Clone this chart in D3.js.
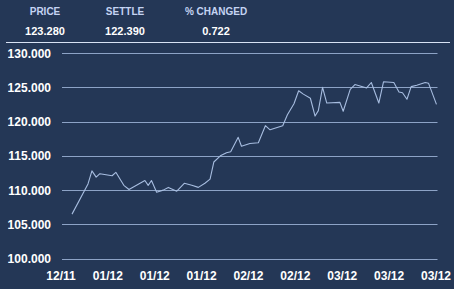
<!DOCTYPE html>
<html><head><meta charset="utf-8">
<script src="https://cdn.jsdelivr.net/npm/d3@7"></script>
<style>
html,body{margin:0;padding:0;background:#243756;}
svg{display:block;font-family:"Liberation Sans",Arial,sans-serif;font-weight:bold;}
</style></head><body>
<svg id="c" width="454" height="289"></svg>
<script>
// Header stats
const headerLabels = ["PRICE", "SETTLE", "% CHANGED"];
const headerValues = ["123.280", "122.390", "0.722"];

// X tick labels (one every 10 time units)
const xTickLabels = ["12/11","01/12","01/12","01/12","02/12","02/12","03/12","03/12","03/12"];
const xTickPos = [0,10,20,30,40,50,60,70,80];

// Y ticks
const yTicks = [100,105,110,115,120,125,130];

// Price series: time unit and value
const tValues = [2.35,5.76,6.6,7.5,8.3,10.9,11.7,13.4,14.5,17.9,18.6,19.3,20.4,21.8,22.9,24.7,26.3,27.9,29.3,30.7,31.8,32.6,34.0,35.3,36.2,37.8,38.5,40.3,42.1,43.6,44.6,47.3,48.3,49.7,50.7,51.7,53.2,54.2,54.9,55.8,56.7,59.5,60.2,61.7,62.7,63.8,65.2,66.2,67.8,68.8,71.0,72.1,72.85,73.8,74.7,75.9,77.7,78.4,80.1];
const prices = [106.5,110.9,112.8,111.9,112.4,112.1,112.6,110.7,110.1,111.4,110.7,111.4,109.7,110.0,110.4,109.85,111.0,110.7,110.4,111.0,111.6,114.1,115.0,115.45,115.6,117.7,116.4,116.8,116.9,119.4,118.8,119.4,121.0,122.6,124.5,124.0,123.4,120.8,121.6,125.0,122.7,122.8,121.5,124.7,125.4,125.2,124.9,125.7,122.7,125.8,125.7,124.3,124.2,123.25,125.1,125.3,125.7,125.6,122.5];

const data = tValues.map((t,i)=>({t, v: prices[i]}));

const svg = d3.select("#c");
const W = 454, H = 289;

// header
const hx = [45, 125, 216];
svg.selectAll("text.hl").data(headerLabels).join("text")
  .attr("class","hl").attr("x",(d,i)=>hx[i]).attr("y",15)
  .attr("text-anchor","middle").attr("font-size",10).attr("fill","#c4d4f2").text(d=>d);
svg.selectAll("text.hv").data(headerValues).join("text")
  .attr("class","hv").attr("x",(d,i)=>hx[i]).attr("y",35)
  .attr("text-anchor","middle").attr("font-size",11).attr("fill","#ffffff").text(d=>d);
svg.append("line").attr("x1",6).attr("x2",450).attr("y1",42.5).attr("y2",42.5)
  .attr("stroke","#d8e2f4").attr("stroke-width",1);

const x = d3.scaleLinear().domain([0,80]).range([61,436]);
const y = d3.scaleLinear().domain([100,130]).range([258.7,53]);

// gridlines
svg.append("g").selectAll("line").data(yTicks).join("line")
  .attr("x1",62).attr("x2",437.5)
  .attr("y1",d=>Math.round(y(d))+0.5).attr("y2",d=>Math.round(y(d))+0.5)
  .attr("stroke","#8da3c6").attr("stroke-width",1);

// y labels
svg.append("g").selectAll("text").data(yTicks).join("text")
  .attr("x",51).attr("y",d=>y(d)+4.5).attr("text-anchor","end")
  .attr("font-size",12).attr("fill","#ffffff").text(d=>d3.format(".3f")(d));

// x labels
svg.append("g").selectAll("text").data(xTickLabels).join("text")
  .attr("x",(d,i)=>x(xTickPos[i])).attr("y",280).attr("text-anchor","middle")
  .attr("font-size",12).attr("fill","#ffffff").text(d=>d);

// line
const line = d3.line().x(d=>x(d.t)).y(d=>y(d.v));
svg.append("path").datum(data).attr("d",line).attr("fill","none")
  .attr("stroke","#a7bde0").attr("stroke-width",1.1).attr("stroke-linejoin","round");
</script>
</body></html>
